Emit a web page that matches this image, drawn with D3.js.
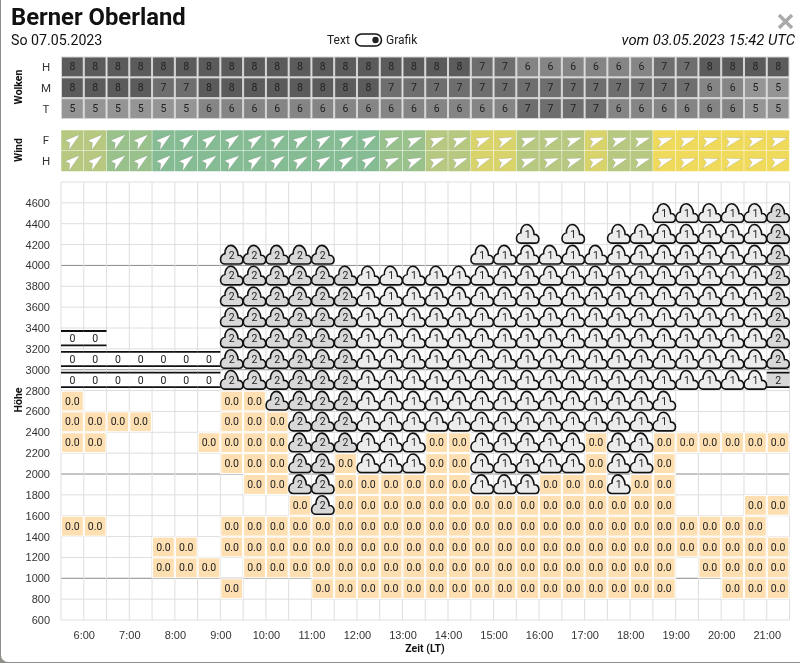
<!DOCTYPE html>
<html>
<head>
<meta charset="utf-8">
<title>Berner Oberland</title>
<style>
    html, body { margin: 0; padding: 0; background: #8f8f8a; }
    svg { display: block; font-family: Roboto, Arial, sans-serif; will-change: transform; }
    .tick text { fill: #333; font-size: 11px; }
    .cellText { font-size: 10.5px; text-anchor: middle; dominant-baseline: central; fill: #222; }
    .sideLabel { font-size: 11.5px; text-anchor: middle; dominant-baseline: central; fill: #333; }
    .groupLabel { font-size: 10.5px; font-weight: bold; text-anchor: middle; fill: #111; }
</style>
<script src="https://d3js.org/d3.v7.min.js"></script>
</head>
<body>
<svg id="chart" width="800" height="663"></svg>
<script>
// cloud cover per half hour slot
var cloudHigh = [8,8,8,8,8,8,8,8,8,8,8,8,8,8,8,8,8,8,7,7,6,6,6,6,6,6,7,7,8,8,8,8];
var cloudMid  = [8,8,8,8,7,7,8,8,8,8,8,8,8,8,7,7,7,7,7,7,7,7,7,7,7,7,7,7,6,6,5,5];
var cloudLow  = [5,5,5,5,5,5,6,6,6,6,6,6,6,6,6,6,6,6,6,6,7,7,7,7,6,6,6,6,6,6,5,5];

// wind speed and heading per slot
var windFloor = [10,10,13,13,15,15,15,15,15,15,15,15,15,15,13,13,10,10,7,7,10,10,10,7,10,10,5,5,5,5,5,5];
var windHigh  = [10,10,13,13,15,15,15,15,15,15,15,15,15,15,13,13,10,10,7,7,10,10,10,7,10,10,5,5,5,5,5,5];
var headFloor = [55,55,55,55,55,55,57,57,58,58,62,62,63,63,70,70,72,72,72,72,74,74,74,74,76,76,76,76,78,78,78,78];
var headHigh  = [55,55,55,55,55,55,57,57,58,58,62,62,63,63,70,70,72,72,72,72,74,74,74,74,76,76,76,76,78,78,78,78];

// height table: _ empty, R "0.0" cell, L "0" layer, A cloud 1, B cloud 2, F flat layer 2
var _ = null, R = "0.0", L = "0", A = "1", B = "2", F = "F";
var row4400 = [_,_,_,_,_,_,_,_,_,_,_,_,_,_,_,_,_,_,_,_,_,_,_,_,_,_,A,A,A,A,A,B];
var row4200 = [_,_,_,_,_,_,_,_,_,_,_,_,_,_,_,_,_,_,_,_,A,_,A,_,A,A,A,A,A,A,A,B];
var row4000 = [_,_,_,_,_,_,_,B,B,B,B,B,_,_,_,_,_,_,A,A,A,A,A,A,A,A,A,A,A,A,A,B];
var row3800 = [_,_,_,_,_,_,_,B,B,B,B,B,B,A,A,A,A,A,A,A,A,A,A,A,A,A,A,A,A,A,A,B];
var row3600 = [_,_,_,_,_,_,_,B,B,B,B,B,B,A,A,A,A,A,A,A,A,A,A,A,A,A,A,A,A,A,A,B];
var row3400 = [_,_,_,_,_,_,_,B,B,B,B,B,B,A,A,A,A,A,A,A,A,A,A,A,A,A,A,A,A,A,A,B];
var row3200 = [L,L,_,_,_,_,_,B,B,B,B,B,B,A,A,A,A,A,A,A,A,A,A,A,A,A,A,A,A,A,A,B];
var row3000 = [L,L,L,L,L,L,L,B,B,B,B,B,B,A,A,A,A,A,A,A,A,A,A,A,A,A,A,A,A,A,A,B];
var row2800 = [L,L,L,L,L,L,L,B,B,B,B,B,B,A,A,A,A,A,A,A,A,A,A,A,A,A,A,A,A,A,A,F];
var row2600 = [R,_,_,_,_,_,_,R,R,B,B,B,B,A,A,A,A,A,A,A,A,A,A,A,A,A,A,_,_,_,_,_];
var row2400 = [R,R,R,R,_,_,_,R,R,R,B,B,B,A,A,A,A,A,A,A,A,A,A,A,A,A,A,_,_,_,_,_];
var row2200 = [R,R,_,_,_,_,R,R,R,R,B,B,B,A,A,A,R,R,A,A,A,A,A,R,A,A,R,R,R,R,R,R];
var row2000 = [_,_,_,_,_,_,_,R,R,R,B,B,R,A,A,A,R,R,A,A,A,A,A,R,A,A,R,_,_,_,_,_];
var row1800 = [_,_,_,_,_,_,_,_,R,R,B,B,R,R,R,R,R,R,A,A,A,R,R,R,A,R,R,_,_,_,_,_];
var row1600 = [_,_,_,_,_,_,_,_,_,_,R,B,R,R,R,R,R,R,R,R,R,R,R,R,R,R,R,_,_,_,R,R];
var row1400 = [R,R,_,_,_,_,_,R,R,R,R,R,R,R,R,R,R,R,R,R,R,R,R,R,R,R,R,R,R,R,R,_];
var row1200 = [_,_,_,_,R,R,_,R,R,R,R,R,R,R,R,R,R,R,R,R,R,R,R,R,R,R,R,R,R,R,R,R];
var row1000 = [_,_,_,_,R,R,R,_,R,R,R,R,R,R,R,R,R,R,R,R,R,R,R,R,R,R,R,_,R,R,R,R];
var row800  = [_,_,_,_,_,_,_,R,_,_,_,R,R,R,R,R,R,R,R,R,R,R,R,R,R,R,R,_,_,R,R,R];

var rowBases = [4400,4200,4000,3800,3600,3400,3200,3000,2800,2600,2400,2200,2000,1800,1600,1400,1200,1000,800];
var rowCells = [row4400,row4200,row4000,row3800,row3600,row3400,row3200,row3000,row2800,row2600,row2400,row2200,row2000,row1800,row1600,row1400,row1200,row1000,row800];

var heightTicks = [600,800,1000,1200,1400,1600,1800,2000,2200,2400,2600,2800,3000,3200,3400,3600,3800,4000,4200,4400,4600];
var hourTicks = [6,7,8,9,10,11,12,13,14,15,16,17,18,19,20,21];

var svg = d3.select("#chart");

// white sheet over the dimmed page
svg.append("rect").attr("x", 1).attr("y", -8).attr("width", 810).attr("height", 670).attr("rx", 7).attr("fill", "#fff");

var x = d3.scaleLinear().domain([5.5, 21.5]).range([61, 789.5]);
var y = d3.scaleLinear().domain([600, 4800]).range([620, 182]);
var slotW = x(6) - x(5.5);
var slotH = y(600) - y(800);

function slotX(i)
{
    return x(5.5 + i * 0.5);
}

// header
svg.append("text").attr("x", 11).attr("y", 25).attr("font-size", 23.8).attr("font-weight", "bold").attr("fill", "#111").text("Berner Oberland");
svg.append("text").attr("x", 11).attr("y", 45).attr("font-size", 14.2).attr("fill", "#111").text("So 07.05.2023");
svg.append("text").attr("x", 327).attr("y", 44).attr("font-size", 12).attr("fill", "#222").text("Text");
svg.append("text").attr("x", 386).attr("y", 44).attr("font-size", 12).attr("fill", "#222").text("Grafik");
svg.append("rect").attr("x", 355.5).attr("y", 34).attr("width", 26).attr("height", 12).attr("rx", 6).attr("fill", "#fff").attr("stroke", "#111").attr("stroke-width", 1.5);
svg.append("circle").attr("cx", 375.5).attr("cy", 40).attr("r", 3.2).attr("fill", "#222");
svg.append("text").attr("x", 795).attr("y", 45).attr("text-anchor", "end").attr("font-size", 14.8).attr("font-style", "italic").attr("fill", "#111").text("vom 03.05.2023 15:42 UTC");
svg.append("path").attr("d", "M779,15 L792,28 M792,15 L779,28").attr("stroke", "#aaa").attr("stroke-width", 3.5).attr("fill", "none");

// cloud cover block
var cloudNames = ["H", "M", "T"];
var cloudData = [cloudHigh, cloudMid, cloudLow];
var cloudY = d3.scaleBand().domain(cloudNames).range([56.5, 119]);
var cloudColor = d3.scaleOrdinal().domain([5, 6, 7, 8]).range(["#959595", "#858585", "#6e6e6e", "#5b5b5b"]);

var cloudBlock = svg.append("g");

cloudNames.forEach(function(name, r)
{
    var row = cloudBlock.append("g");

    row.selectAll("rect")
    .data(cloudData[r])
    .enter()
    .append("rect")
    .attr("x", function(d, i) { return slotX(i) + 0.5; })
    .attr("y", cloudY(name) + 0.5)
    .attr("width", slotW - 1)
    .attr("height", cloudY.bandwidth() - 1)
    .attr("fill", function(d) { return cloudColor(d); })
    .attr("stroke", "#d4d4d4");

    row.selectAll("text")
    .data(cloudData[r])
    .enter()
    .append("text")
    .attr("class", "cellText")
    .attr("x", function(d, i) { return slotX(i) + slotW / 2; })
    .attr("y", cloudY(name) + cloudY.bandwidth() / 2)
    .text(function(d) { return d; });

    svg.append("text").attr("class", "sideLabel").attr("x", 46).attr("y", cloudY(name) + cloudY.bandwidth() / 2).text(name);
});

// wind block
var windNames = ["F", "H"];
var windSpeed = [windFloor, windHigh];
var windHead = [headFloor, headHigh];
var windY = d3.scaleBand().domain(windNames).range([130, 171.5]);
var windColor = d3.scaleLinear().domain([5, 10, 15]).range(["#efda5c", "#b7c981", "#85bc93"]);
var arrowPath = "M9.5,-0.5 L-8.5,6 L-3.5,0.5 L-6,-4.2 Z";

windNames.forEach(function(name, r)
{
    var row = svg.append("g");

    row.selectAll("rect")
    .data(windSpeed[r])
    .enter()
    .append("rect")
    .attr("x", function(d, i) { return slotX(i) + 0.25; })
    .attr("y", windY(name) + 0.25)
    .attr("width", slotW - 0.5)
    .attr("height", windY.bandwidth() - 0.5)
    .attr("fill", function(d) { return windColor(d); });

    row.selectAll("path")
    .data(windHead[r])
    .enter()
    .append("path")
    .attr("d", arrowPath)
    .attr("fill", "#fff")
    .attr("stroke", "rgba(110,110,110,0.35)")
    .attr("stroke-width", 0.5)
    .attr("transform", function(d, i)
    {
        return "translate(" + (slotX(i) + slotW / 2) + "," + (windY(name) + windY.bandwidth() / 2) + ") rotate(" + (d - 90) + ")";
    });

    svg.append("text").attr("class", "sideLabel").attr("x", 46).attr("y", windY(name) + windY.bandwidth() / 2).text(name);
});

svg.append("text").attr("class", "groupLabel").attr("transform", "translate(22,87) rotate(-90)").text("Wolken");
svg.append("text").attr("class", "groupLabel").attr("transform", "translate(22,150) rotate(-90)").text("Wind");
svg.append("text").attr("class", "groupLabel").attr("transform", "translate(22,400) rotate(-90)").text("Höhe");
svg.append("text").attr("class", "groupLabel").attr("x", 425).attr("y", 652).text("Zeit (LT)");

// grid behind the height table
var grid = svg.append("g");

grid.selectAll(".hLine")
.data(heightTicks.concat([4800]))
.enter()
.append("line")
.attr("x1", x.range()[0])
.attr("x2", x.range()[1])
.attr("y1", function(d) { return y(d); })
.attr("y2", function(d) { return y(d); })
.attr("stroke", function(d) { return d % 1000 == 0 ? "#8c8c8c" : "#dedede"; })
.attr("stroke-width", 1);

grid.selectAll(".vLine")
.data(d3.range(0, 33))
.enter()
.append("line")
.attr("x1", function(d) { return slotX(d); })
.attr("x2", function(d) { return slotX(d); })
.attr("y1", y.range()[1])
.attr("y2", y.range()[0])
.attr("stroke", "#dedede");

// axes
var xAxis = d3.axisBottom(x)
.tickValues(hourTicks)
.tickSize(0)
.tickPadding(11)
.tickFormat(function(d) { return d + ":00"; });

var yAxis = d3.axisLeft(y)
.tickValues(heightTicks)
.tickSize(0)
.tickPadding(11)
.tickFormat(function(d) { return d; });

svg.append("g").attr("transform", "translate(0,620)").call(xAxis).call(function(g) { g.select(".domain").remove(); });
svg.append("g").attr("transform", "translate(61,0)").call(yAxis).call(function(g) { g.select(".domain").remove(); });

// height table
var cloudShape = "M-7,9 L7.5,9 C10,9 11.2,7 11.2,4.8 C11.2,2.2 9.2,0 6.4,0.3 C6.2,-4.6 3.2,-9.6 -1,-9.6 C-4.8,-9.6 -7,-5.4 -6.8,-1.4 C-9.6,-0.8 -11.2,2 -11.2,4.4 C-11.2,7 -9.4,9 -7,9 Z";
var cells = svg.append("g");

rowCells.forEach(function(values, r)
{
    var top = y(rowBases[r] + 200);
    var row = cells.append("g");
    var items = values.map(function(v, i) { return { v: v, i: i }; }).filter(function(d) { return d.v !== null; });

    var rain = items.filter(function(d) { return d.v == R; });
    var layer = items.filter(function(d) { return d.v == L || d.v == F; });
    var cloud = items.filter(function(d) { return d.v == A || d.v == B; });

    row.selectAll(".rain")
    .data(rain)
    .enter()
    .append("rect")
    .attr("x", function(d) { return slotX(d.i) + 0.5; })
    .attr("y", top + 0.5)
    .attr("width", slotW - 1)
    .attr("height", slotH - 1)
    .attr("fill", "#fddfb2")
    .attr("stroke", "#fff");

    row.selectAll(".layer")
    .data(layer)
    .enter()
    .append("rect")
    .attr("x", function(d) { return slotX(d.i); })
    .attr("y", top + 3)
    .attr("width", slotW)
    .attr("height", slotH - 6)
    .attr("fill", function(d) { return d.v == F ? "#d8d8d8" : "#fff"; });

    row.selectAll(".layerTop")
    .data(layer)
    .enter()
    .append("path")
    .attr("d", function(d) { return "M" + slotX(d.i) + "," + (top + 3) + "h" + slotW + "M" + slotX(d.i) + "," + (top + slotH - 3.5) + "h" + slotW; })
    .attr("stroke", "#111")
    .attr("stroke-width", 1.8);

    row.selectAll(".cloud")
    .data(cloud)
    .enter()
    .append("path")
    .attr("d", cloudShape)
    .attr("transform", function(d) { return "translate(" + (slotX(d.i) + slotW / 2) + "," + (top + slotH / 2) + ")"; })
    .attr("fill", function(d) { return d.v == A ? "#ececec" : "#d8d8d8"; })
    .attr("stroke", "#111")
    .attr("stroke-width", 1.6);

    row.selectAll(".cellText")
    .data(items)
    .enter()
    .append("text")
    .attr("class", "cellText")
    .attr("x", function(d) { return slotX(d.i) + slotW / 2; })
    .attr("y", top + slotH / 2)
    .text(function(d) { return d.v == F ? "2" : d.v; });
});
</script>
</body>
</html>
